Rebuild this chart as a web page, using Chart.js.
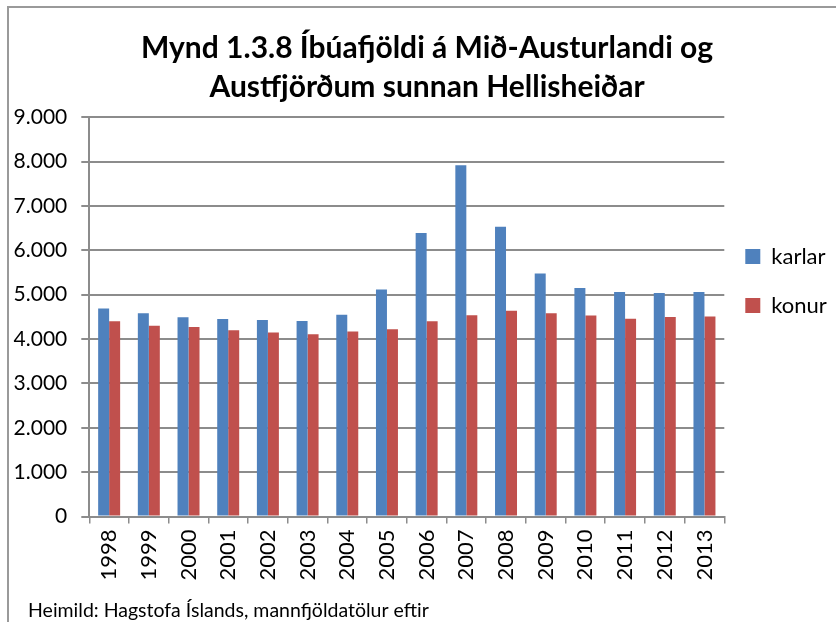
<!DOCTYPE html>
<html>
<head>
<meta charset="utf-8">
<script src="https://cdn.jsdelivr.net/npm/chart.js@4/dist/chart.umd.min.js"></script>
<style>
  html, body { margin: 0; padding: 0; background: #ffffff; }
  #wrap { position: relative; width: 836px; height: 622px; overflow: hidden; }
  #frame { position: absolute; left: 7px; top: 6px; width: 900px; height: 700px;
           border-left: 2px solid #9a9a9a; border-top: 2px solid #9a9a9a; box-sizing: border-box; }
  #c { position: absolute; left: 0; top: 0; }
</style>
</head>
<body>
<div id="wrap">
  <div id="frame"></div>
  <canvas id="c" width="836" height="622"></canvas>
</div>
<script>
const categories = ['1998','1999','2000','2001','2002','2003','2004','2005','2006','2007','2008','2009','2010','2011','2012','2013'];
const karlar = [4690, 4580, 4490, 4450, 4430, 4410, 4550, 5120, 6390, 7920, 6530, 5480, 5150, 5060, 5040, 5060];
const konur  = [4400, 4300, 4270, 4200, 4150, 4110, 4170, 4220, 4400, 4540, 4640, 4580, 4530, 4460, 4500, 4510];
const yTickValues = [0, 1000, 2000, 3000, 4000, 5000, 6000, 7000, 8000, 9000];
const seriesNames = ['karlar', 'konur'];
const titleLines = ['Mynd 1.3.8 Íbúafjöldi á Mið-Austurlandi og', 'Austfjörðum sunnan Hellisheiðar'];
const sourceNote = 'Heimild: Hagstofa Íslands, mannfjöldatölur eftir';

const FONT = 'Lato, "Open Sans", sans-serif';
const GRID = '#8c8c8c';

function fmt(v) {
  return String(v).replace(/\B(?=(\d{3})+(?!\d))/g, '.');
}

// Fine placement of title, source note and legend boxes after Chart.js layout
const boxPlacer = {
  id: 'boxPlacer',
  afterLayout(chart) {
    const ca = chart.chartArea;
    const t = chart.titleBlock;
    if (t) { t.left += 18; }
    const sub = chart.boxes.find(b => b !== t && b.options && b.options.text === sourceNote);
    if (sub) { sub.left = 28; }
    const lg = chart.legend;
    const lab = lg.options.labels;
    const pad = lab.padding;
    const fs = lab.font.size;
    const h = lg.height;
    lg.left = ca.right + 21 - pad;
    lg.right = chart.width;
    lg.top = ca.top + 131.7 - pad - (fs - lab.boxHeight) / 2;
    lg.bottom = lg.top + h;
  }
};

new Chart(document.getElementById('c'), {
  type: 'bar',
  data: {
    labels: categories,
    datasets: [
      { label: seriesNames[0], data: karlar, backgroundColor: '#4F81BD', borderWidth: 0,
        categoryPercentage: 0.554, barPercentage: 1.0 },
      { label: seriesNames[1], data: konur, backgroundColor: '#C0504D', borderWidth: 0,
        categoryPercentage: 0.554, barPercentage: 1.0 }
    ]
  },
  options: {
    responsive: false,
    animation: false,
    devicePixelRatio: 1,
    layout: { padding: { left: 0, right: 0, top: 0, bottom: 0 } },
    plugins: {
      tooltip: { enabled: false },
      title: {
        display: true,
        text: titleLines,
        color: '#000000',
        font: { family: FONT, size: 30, weight: 'bold', lineHeight: 1.3 },
        padding: { top: 28.5, bottom: 10.8 }
      },
      subtitle: {
        display: true,
        position: 'bottom',
        align: 'start',
        text: sourceNote,
        color: '#000000',
        font: { family: FONT, size: 19.5, lineHeight: 1.2 },
        padding: { top: 0, bottom: 0 }
      },
      legend: {
        display: true,
        position: 'right',
        align: 'start',
        maxWidth: 111.7,
        labels: {
          color: '#000000',
          font: { family: FONT, size: 22 },
          boxWidth: 15,
          boxHeight: 15,
          padding: 27
        }
      }
    },
    scales: {
      x: {
        grid: { display: true, drawOnChartArea: false, offset: true, color: GRID, lineWidth: 1.5, tickLength: 7 },
        border: { display: true, color: GRID, width: 2 },
        ticks: { color: '#000000', font: { family: FONT, size: 22 }, minRotation: 90, maxRotation: 90, padding: 6, autoSkip: false },
        afterFit(scale) { scale.height = 82.1; }
      },
      y: {
        min: 0,
        max: 9000,
        afterBuildTicks(scale) { scale.ticks = yTickValues.map(v => ({ value: v })); },
        grid: { display: true, color: GRID, lineWidth: 2, tickLength: 8 },
        border: { display: true, color: GRID, width: 2 },
        ticks: { color: '#000000', font: { family: FONT, size: 21 }, padding: 14,
                 callback: (v) => fmt(v) },
        afterFit(scale) { scale.width = 89.3; }
      }
    }
  },
  plugins: [boxPlacer]
});
</script>
</body>
</html>
